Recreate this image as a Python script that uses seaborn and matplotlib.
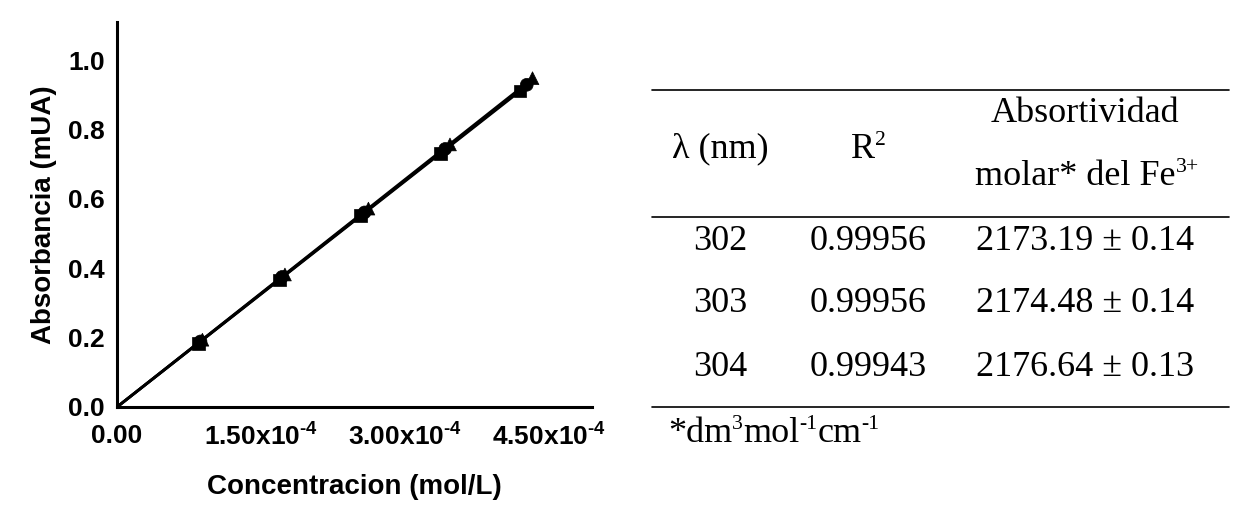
import matplotlib
matplotlib.use("Agg")
import matplotlib.pyplot as plt
from matplotlib.ticker import FixedLocator, MultipleLocator
import seaborn as sns
import numpy as np
import pandas as pd

# Calibration data for the three wavelengths
conc_302 = [8.5e-5, 1.69e-4, 2.54e-4, 3.37e-4, 4.20e-4]
abs_302 = [0.184, 0.366, 0.551, 0.731, 0.911]
conc_303 = [8.7e-5, 1.72e-4, 2.58e-4, 3.42e-4, 4.27e-4]
abs_303 = [0.189, 0.375, 0.561, 0.744, 0.929]
conc_304 = [8.9e-5, 1.75e-4, 2.62e-4, 3.47e-4, 4.33e-4]
abs_304 = [0.194, 0.382, 0.572, 0.757, 0.948]

x_ticks = [0.0, 1.5e-4, 3.0e-4, 4.5e-4]
x_tick_labels = ['0.00',
                 r'1.50x10$^{\mathregular{\text{-}4}}$',
                 r'3.00x10$^{\mathregular{\text{-}4}}$',
                 r'4.50x10$^{\mathregular{\text{-}4}}$']
y_ticks = [0.0, 0.2, 0.4, 0.6, 0.8, 1.0]
y_tick_labels = ['0.0', '0.2', '0.4', '0.6', '0.8', '1.0']

# Table contents
wavelengths = ['302', '303', '304']
r2_values = ['0.99956', '0.99956', '0.99943']
absortividad = ['2173.19 \u00b1 0.14', '2174.48 \u00b1 0.14', '2176.64 \u00b1 0.13']

sns.set_style('white')
plt.rcParams['font.family'] = ['Liberation Sans', 'DejaVu Sans']
plt.rcParams['mathtext.fontset'] = 'custom'
plt.rcParams['mathtext.rm'] = 'Liberation Sans:bold'
plt.rcParams['mathtext.it'] = 'Liberation Sans:bold'
plt.rcParams['mathtext.bf'] = 'Liberation Sans:bold'
for key in ['text.color', 'axes.labelcolor', 'xtick.color', 'ytick.color']:
    plt.rcParams[key] = 'black'

df = pd.concat([
    pd.DataFrame({'conc': conc_302, 'abs': abs_302, 'lam': '302'}),
    pd.DataFrame({'conc': conc_303, 'abs': abs_303, 'lam': '303'}),
    pd.DataFrame({'conc': conc_304, 'abs': abs_304, 'lam': '304'}),
])

fig = plt.figure(figsize=(12.39, 5.09), dpi=100)
ax = fig.add_axes([117 / 1239, 102 / 509, 475 / 1239, 385 / 509])

# Fit lines through the origin
for lam, grp in df.groupby('lam'):
    x = grp['conc'].values
    y = grp['abs'].values
    slope = np.sum(x * y) / np.sum(x * x)
    xs = np.array([0, x.max()])
    ax.plot(xs, slope * xs, color='black', lw=2, zorder=2)

sns.scatterplot(data=df, x='conc', y='abs', style='lam',
                markers={'302': 's', '303': 'o', '304': '^'},
                color='black', s=85, edgecolor='black', linewidth=0.5,
                legend=False, ax=ax, zorder=3)

ax.set_xlim(0, 4.95e-4)
ax.set_ylim(0, 1.11)
ax.xaxis.set_major_locator(FixedLocator(x_ticks))
ax.set_xticklabels(x_tick_labels)
ax.xaxis.set_minor_locator(MultipleLocator(0.75e-4))
ax.yaxis.set_major_locator(FixedLocator(y_ticks))
ax.set_yticklabels(y_tick_labels)
ax.yaxis.set_minor_locator(MultipleLocator(0.1))

for side in ['top', 'right']:
    ax.spines[side].set_visible(False)
for side in ['left', 'bottom']:
    ax.spines[side].set_linewidth(2.2)
    ax.spines[side].set_color('black')

ax.tick_params(which='major', direction='out', length=5, width=2, labelsize=19, pad=4)
ax.tick_params(which='minor', direction='out', length=3, width=2)
ax.tick_params(axis='x', which='major', pad=7)
for lab in ax.get_xticklabels() + ax.get_yticklabels():
    lab.set_fontweight('bold')

ax.set_xlabel('Concentracion (mol/L)', fontsize=20, fontweight='bold', labelpad=17)
ax.set_ylabel('Absorbancia (mUA)', fontsize=20, fontweight='bold', labelpad=8)

# Table drawn in pixel coordinates
tax = fig.add_axes([0, 0, 1, 1])
tax.set_xlim(0, 1239)
tax.set_ylim(509, 0)
tax.axis('off')

serif = ['Liberation Serif', 'DejaVu Serif']
fs = 26
renderer = fig.canvas.get_renderer()


def draw_pieces(x, y, pieces, align='left'):
    # write text pieces in a row, superscripts smaller and raised
    texts = []
    cur = 0.0
    for s, sup in pieces:
        size = fs * 0.6 if sup else fs
        yy = y - 13 if sup else y
        t = tax.text(cur, yy, s, ha='left', va='baseline', fontsize=size, family=serif)
        w = t.get_window_extent(renderer).width
        texts.append(t)
        cur += w
    start = x - cur / 2 if align == 'center' else x
    for t in texts:
        px, py = t.get_position()
        t.set_position((px + start, py))


for yl in [90, 217, 407]:
    tax.plot([652, 1229], [yl, yl], color='black', lw=1.2)

tax.text(720, 149, '\u03bb (nm)', ha='center', va='center', fontsize=fs, family=serif)
draw_pieces(868, 158, [('R', False), ('2', True)], align='center')
tax.text(1085, 113, 'Absortividad', ha='center', va='center', fontsize=fs, family=serif)
draw_pieces(1087, 185, [('molar* del Fe', False), ('3+', True)], align='center')

row_y = [242, 304, 367]
for i in range(3):
    tax.text(720, row_y[i], wavelengths[i], ha='center', va='center', fontsize=fs, family=serif)
    tax.text(868, row_y[i], r2_values[i], ha='center', va='center', fontsize=fs, family=serif)
    tax.text(1085, row_y[i], absortividad[i], ha='center', va='center', fontsize=fs, family=serif)

draw_pieces(668, 442, [('*dm', False), ('3', True), ('mol', False), ('-1', True),
                       ('cm', False), ('-1', True)])

plt.savefig('out.png', dpi=100)
plt.close('all')
